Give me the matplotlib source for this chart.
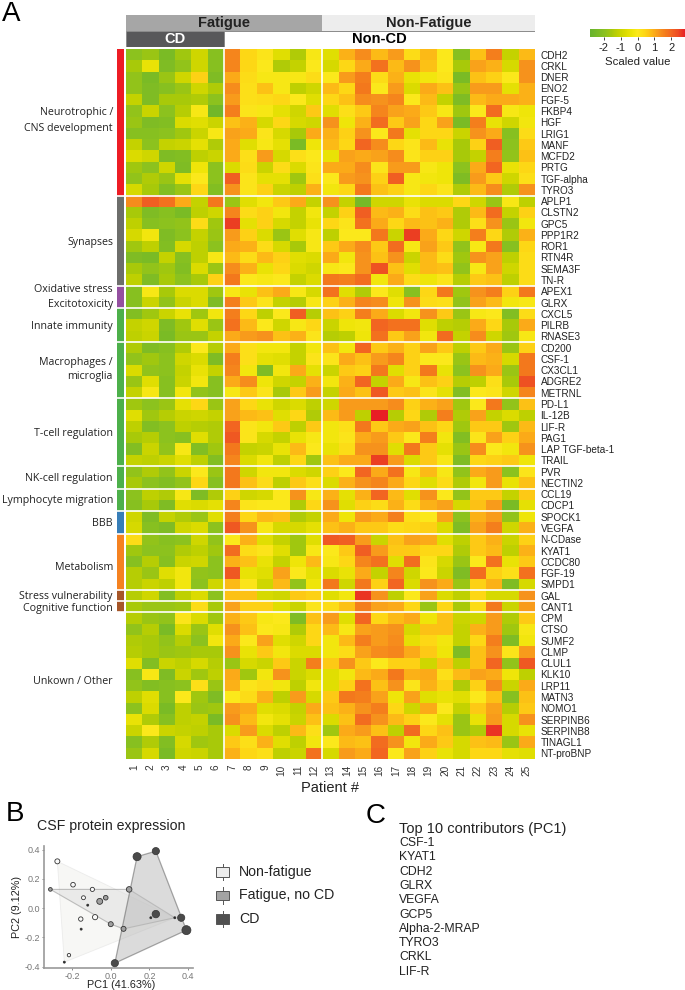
import numpy as np
import matplotlib
matplotlib.use("Agg")
import matplotlib.pyplot as plt
from matplotlib.colors import LinearSegmentedColormap
from matplotlib.patches import Rectangle

plt.rcParams["font.family"] = ["Liberation Sans", "DejaVu Sans"]
plt.rcParams["axes.unicode_minus"] = False

W, H = 685, 990

patients = [str(i) for i in range(1, 26)]

proteins = [
    "CDH2", "CRKL", "DNER", "ENO2", "FGF-5", "FKBP4", "HGF", "LRIG1", "MANF", "MCFD2", "PRTG", "TGF-alpha", "TYRO3",
    "APLP1", "CLSTN2", "GPC5", "PPP1R2", "ROR1", "RTN4R", "SEMA3F", "TN-R",
    "APEX1", "GLRX",
    "CXCL5", "PILRB", "RNASE3",
    "CD200", "CSF-1", "CX3CL1", "ADGRE2", "METRNL",
    "PD-L1", "IL-12B", "LIF-R", "PAG1", "LAP TGF-beta-1", "TRAIL",
    "PVR", "NECTIN2",
    "CCL19", "CDCP1",
    "SPOCK1", "VEGFA",
    "N-CDase", "KYAT1", "CCDC80", "FGF-19", "SMPD1",
    "GAL",
    "CANT1",
    "CPM", "CTSO", "SUMF2", "CLMP", "CLUL1", "KLK10", "LRP11", "MATN3", "NOMO1",
    "SERPINB6", "SERPINB8", "TINAGL1", "NT-proBNP",
]

neuro = [
    [-1.9,-1.7,-2.3,-1.6,-0.9,-2.0, 1.5,0.4,0.1,-0.6,-1.4,-0.1, -0.6,0.9,1.4,0.8,1.2,0.3,0.8,0.0,-2.0,0.7,1.6,-1.1,0.8],
    [-1.5,-0.4,-2.2,-1.8,-0.9,-2.0, 1.5,0.4,0.0,-1.4,-1.1,0.0, -0.8,0.4,1.0,1.8,0.8,1.3,0.7,0.0,-1.5,1.1,0.9,-0.8,1.3],
    [-1.8,-2.3,-1.7,-0.9,0.5,-2.2, 1.0,0.3,-0.1,-0.1,-0.1,0.3, 0.0,1.2,1.6,0.3,0.9,-0.4,-0.2,0.1,-2.3,0.7,0.5,0.0,1.3],
    [-1.8,-2.2,-2.0,-1.7,-0.9,-1.4, 1.4,0.2,0.7,-0.1,-1.2,-0.9, 0.8,0.4,1.7,0.0,1.2,-0.7,1.0,0.7,-1.7,1.2,1.2,-0.5,0.9],
    [-1.1,-2.2,-1.5,-1.5,-1.4,-1.9, 1.2,0.2,0.3,0.4,0.0,-0.6, 0.4,0.7,1.4,1.3,1.5,0.0,0.8,-1.1,-2.2,0.8,1.0,1.0,0.9],
    [-1.8,-1.0,-1.9,-1.3,-0.1,-2.5, 1.6,0.1,-0.1,-0.5,-0.9,0.6, -0.6,0.2,0.6,1.5,1.1,1.0,0.6,-0.1,-1.6,0.0,1.9,-0.1,-0.3],
    [-1.7,-2.2,-2.1,-0.7,-0.6,-1.0, 0.7,0.9,-0.8,0.4,-0.8,-0.9, 1.3,-0.3,0.9,1.9,0.6,1.1,0.4,1.1,-2.3,1.6,-0.4,-0.9,-0.2],
    [-2.0,-2.0,-1.9,-1.6,-1.0,-0.1, 1.1,1.0,0.1,-0.8,-1.5,1.0, 0.9,0.5,1.3,0.0,1.7,-0.5,0.4,0.4,-1.0,1.3,1.0,-2.0,0.3],
    [-1.1,-1.9,-1.1,-1.0,-0.5,-1.4, 1.0,-0.6,-0.1,-0.5,-2.3,-0.3, 0.8,0.4,2.0,1.4,0.4,0.1,0.8,-0.4,-1.5,0.5,2.1,-1.9,0.6],
    [-0.7,-0.9,-2.2,-2.1,-1.2,-1.0, 1.0,0.2,1.2,-0.8,0.2,0.0, -0.4,1.1,1.0,1.1,1.4,0.1,0.5,0.5,-1.5,-1.1,1.6,-1.8,0.7],
    [-1.6,-1.9,-0.9,-2.2,-0.3,-1.9, -0.7,0.3,-1.0,0.3,-0.7,0.1, 1.0,1.0,1.4,0.1,1.2,1.2,-0.1,-0.3,-1.9,1.0,2.0,-0.4,0.4],
    [-1.8,-1.4,-1.7,-0.5,0.0,-1.9, 2.1,0.1,-0.5,-0.5,-1.6,0.2, 0.0,1.2,1.3,0.5,2.1,-0.1,-0.2,-0.3,-2.2,1.2,0.6,-0.9,0.2],
    [-0.8,-1.5,-2.1,-1.7,0.4,-2.1, 1.3,0.1,0.5,-1.0,-1.2,0.9, -0.2,0.4,1.7,0.7,0.5,-0.1,0.4,0.1,-1.4,0.8,1.4,-1.4,1.3],
]
synapses = [
    [1.4,2.1,1.8,1.0,-1.1,1.7, -1.7,-0.6,-0.2,0.6,1.0,-1.1, 1.3,-1.1,-2.4,-0.9,-0.9,-0.4,-0.7,-0.7,0.4,-0.9,-1.7,-0.1,-1.2],
    [-1.5,-2.2,-2.0,-2.3,-1.2,-0.9, 1.5,0.3,0.5,-0.2,-1.1,-0.2, -1.1,0.5,2.1,0.8,0.9,0.3,0.7,0.6,-1.4,0.8,1.9,-1.1,0.5],
    [-1.2,-2.0,-1.9,-1.8,0.3,-1.6, 2.5,-0.5,0.5,-0.8,-1.1,-0.4, 0.4,0.1,1.8,1.0,0.4,0.8,0.7,0.9,-1.4,0.2,1.3,-1.7,-0.2],
    [-0.8,-0.2,-2.2,-1.9,-1.1,-1.7, 1.2,0.5,-0.7,-1.7,-0.6,-0.1, -1.2,0.0,0.0,1.7,-1.0,2.5,1.0,0.4,-0.9,1.6,0.4,-1.4,0.9],
    [-1.6,-1.2,-2.1,-0.8,-1.2,-1.9, 1.0,0.9,0.3,-0.8,-1.5,-0.1, 0.6,1.0,1.4,0.6,1.9,-0.1,1.1,0.6,-1.8,-0.1,1.7,-2.0,0.4],
    [-2.2,-2.3,-1.1,-2.0,-1.2,-0.1, 0.8,0.3,0.8,0.5,-0.6,-0.7, 1.0,-0.2,1.3,0.7,1.3,-1.0,0.8,0.3,-1.6,1.3,1.1,-1.2,0.3],
    [-1.5,-1.8,-1.6,-2.1,-0.7,-1.7, 1.4,0.9,-0.4,0.4,-0.7,-0.9, -0.1,0.0,1.3,2.3,0.7,-0.6,0.8,0.7,-1.8,-0.1,1.1,-0.9,0.3],
    [-1.2,-2.2,-1.5,-1.9,-1.5,0.5, 1.7,0.0,-0.1,0.0,-1.1,-0.7, 1.7,1.6,1.9,-0.2,1.0,0.3,-0.3,0.1,-1.3,0.6,0.7,-1.2,0.3],
]
oxidative = [
    [-2.0,-0.1,-1.5,-0.7,-0.7,-1.6, -0.1,-0.4,0.7,1.0,-0.1,-0.8, 1.8,-0.6,-1.4,0.0,-0.6,-2.0,0.4,1.7,-1.6,1.3,1.6,0.5,1.7],
    [-2.0,-1.0,-1.8,-1.0,-0.7,-2.2, 1.6,0.6,0.1,-1.1,-1.3,-0.1, 0.5,0.9,1.5,1.4,-0.3,1.3,0.3,0.2,-1.8,1.1,0.8,-0.2,-0.1],
]
innate = [
    [-2.1,-1.6,-1.0,-0.4,-1.6,-0.2, 1.6,0.4,-1.2,0.0,2.1,-1.3, 0.7,0.5,1.6,1.0,-0.7,-0.2,1.3,0.6,-1.7,-0.1,0.0,-2.1,0.3],
    [-1.1,-0.9,-2.2,-1.6,-0.6,-1.7, 1.8,0.8,0.0,-0.9,-0.1,0.4, -1.0,-0.3,-0.2,2.0,1.8,1.8,-0.6,-1.2,-1.3,1.0,0.4,-1.5,1.0],
    [-1.2,-1.0,-2.3,-1.7,-1.7,-1.1, 1.0,1.2,1.3,0.7,0.9,0.1, -1.3,-1.2,-0.3,1.8,0.6,1.1,-0.2,1.9,-1.1,1.4,-0.9,-1.6,-0.1],
]
macrophages = [
    [-1.4,-2.2,-2.0,-1.4,0.0,-1.3, 1.0,0.2,-0.2,-0.2,-1.1,-0.2, 0.7,-0.2,2.0,0.6,0.9,0.5,1.1,0.6,-1.2,0.6,1.0,-1.7,0.5],
    [-1.8,-1.6,-1.9,-0.9,-0.7,-2.2, 1.6,0.2,-0.5,-0.6,-1.1,0.1, 0.1,1.0,0.7,1.2,1.5,0.5,0.0,0.0,-1.7,0.8,0.9,-0.8,1.7],
    [-0.7,-1.8,-1.9,-1.1,-0.4,-1.1, 1.5,-0.2,-2.2,-0.2,1.0,-0.5, -1.0,0.6,0.5,1.7,-0.6,0.5,1.7,-0.4,-1.9,1.3,1.0,-1.7,1.7],
    [-1.7,-0.6,-2.0,-1.0,-0.2,-2.0, 1.0,1.4,-0.3,-0.9,-1.1,0.9, -0.2,0.9,2.0,-1.1,1.0,-0.1,0.7,0.5,-1.3,-1.2,0.2,-1.5,2.3],
    [-1.1,-0.1,-2.0,-0.2,-1.8,-2.0, -0.1,0.6,0.1,-1.5,0.6,1.2, -1.1,1.0,0.7,2.2,0.6,0.7,0.1,-0.5,-2.1,0.0,0.1,-0.9,1.5],
]
tcell = [
    [-1.6,-1.9,-1.7,-0.5,0.4,-1.7, 1.1,0.4,-0.4,-0.9,-0.7,-1.2, -0.9,1.2,1.2,1.2,1.4,0.5,0.9,1.1,-1.6,0.0,1.7,-1.8,0.7],
    [-0.6,-1.6,-1.3,-1.0,-0.9,-1.1, 1.1,0.8,0.7,-0.6,0.4,-1.4, 0.8,1.2,-1.2,2.8,-1.3,0.4,-1.4,1.6,-1.4,1.1,-1.1,-0.7,-1.2],
    [-1.2,-2.1,-1.9,-1.2,-1.3,-1.4, 2.0,0.1,-0.2,0.6,-1.2,0.6, -0.2,0.2,1.7,0.6,1.0,1.1,0.7,0.4,-1.6,0.6,0.6,-1.6,0.8],
    [-1.5,-1.3,-1.9,-2.0,-0.6,-1.4, 2.2,0.1,-0.8,-1.1,-0.4,-0.1, -0.2,0.1,1.0,1.2,0.6,0.0,1.6,-0.2,-2.1,0.1,1.1,0.5,1.0],
    [-2.1,-1.0,-1.8,-0.1,-2.1,-1.6, 1.7,-1.1,-1.0,-0.4,0.8,0.0, -0.4,0.3,1.3,1.3,-0.6,1.7,0.6,-0.5,-1.7,1.4,0.0,-0.2,1.3],
    [-1.1,-1.2,-1.0,-0.6,-1.2,-2.1, 1.5,-0.7,-0.2,-1.2,0.4,-1.6, 0.7,1.0,1.0,2.5,1.2,-0.7,0.6,-0.1,-2.2,0.4,0.5,0.6,-0.3],
]
nkcell = [
    [-1.8,-1.4,-1.8,-1.0,0.0,-1.7, 1.7,-0.9,-0.2,-0.2,-0.7,-0.9, 0.5,0.0,2.0,1.0,1.8,-0.1,0.8,-0.1,-1.8,1.0,1.2,-1.9,0.1],
    [-1.5,-1.9,-2.1,-1.8,0.4,-2.0, 1.7,0.7,0.3,-1.2,0.6,0.2, -0.7,0.9,1.3,1.5,1.0,0.4,-0.6,0.3,-1.4,-0.2,1.2,-0.4,0.7],
]
lymphocyte = [
    [-1.9,-1.2,-1.4,-0.1,-2.2,-1.4, 0.5,-0.9,-0.8,0.0,1.3,-0.1, 0.9,-0.5,0.9,2.0,0.8,-0.6,1.3,0.0,-1.8,0.6,0.6,-1.1,0.6],
    [-2.0,-1.5,-2.2,-0.6,-0.7,-0.5, 1.5,0.1,0.0,0.0,-1.4,0.4, 1.3,-0.6,0.5,0.3,0.9,0.3,0.9,1.1,-0.8,0.7,1.2,-2.3,-0.5],
]
bbb = [
    [-0.9,-2.2,-1.1,-1.4,-1.7,-0.6, 1.6,0.4,0.8,0.7,-1.4,-1.1, 1.0,-0.3,1.2,1.0,1.6,0.2,0.0,1.1,-1.9,0.9,1.2,-1.8,-0.3],
    [-0.8,-2.0,-2.2,-0.9,-0.7,-1.9, 2.2,1.3,-0.1,-0.8,-0.8,-0.5, 0.7,0.9,0.6,0.6,0.3,0.4,0.5,-0.7,-2.2,1.1,1.6,-0.9,0.9],
]
metabolism = [
    [0.3,-1.8,-2.0,-1.9,-0.9,-1.8, 0.0,0.9,-0.6,-1.1,-1.6,-0.6, 2.2,2.1,1.2,-1.0,0.7,1.1,1.0,-0.6,-1.2,0.6,0.9,-1.0,0.5],
    [-1.6,-1.9,-1.9,-1.4,-1.2,-1.6, 1.9,0.3,0.1,-0.6,-1.6,-0.1, 0.0,0.6,2.1,1.2,0.6,0.6,0.4,0.4,-1.4,0.6,0.8,-1.2,0.9],
    [-2.0,-1.3,-2.0,-1.0,-0.9,-1.9, 0.9,0.7,-0.4,-1.1,-0.3,0.8, -0.1,0.4,1.5,1.8,-0.6,1.9,0.1,-0.8,-1.7,0.0,1.8,-0.4,0.6],
    [-1.3,-1.7,-0.6,-0.2,-1.8,-1.9, 2.2,-0.4,-0.6,1.1,0.0,-0.5, -0.7,-0.4,1.0,-1.1,1.5,-0.9,0.0,-1.0,-2.2,1.9,0.5,0.2,1.8],
    [-1.3,-1.0,-1.2,-0.2,-1.9,-0.9, 0.8,0.1,-0.9,0.8,-1.8,-0.3, 1.7,-0.9,1.7,0.5,2.0,-0.7,1.3,1.0,-1.7,0.5,0.9,-2.2,-0.8],
]
stress = [
    [-1.3,-0.9,-2.1,-1.2,-0.7,-1.9, 0.7,0.7,-0.8,-0.9,0.6,0.5, -0.6,-0.2,2.6,1.3,-1.2,0.0,1.1,-0.7,-1.2,0.4,-0.8,-0.8,1.3],
]
cognitive = [
    [-1.5,-1.7,-1.7,-1.6,0.3,-1.5, 1.1,0.5,0.5,-0.6,-1.0,0.1, 0.3,0.7,1.6,1.1,1.0,0.4,-1.7,0.4,-1.5,0.3,1.7,-1.0,1.2],
]
other = [
    [-1.3,-1.7,-1.8,0.1,-0.7,-1.6, 0.9,0.6,-0.1,0.0,-2.2,0.7, 1.2,-0.6,2.0,0.4,0.8,1.0,-0.3,0.7,-1.0,-0.9,1.2,-1.4,0.6],
    [-1.8,-1.3,-2.3,-0.7,-1.7,-0.6, 1.3,0.7,0.0,-0.1,-1.4,0.4, 0.8,-0.1,1.1,1.2,1.3,-0.8,0.7,0.7,-1.1,0.9,1.2,-1.6,-0.1],
    [-1.4,-1.5,-1.8,-1.3,-1.9,-0.2, 1.0,0.0,1.1,-0.6,-0.9,0.4, -0.2,0.8,1.6,1.2,1.4,-0.5,0.4,-0.2,-1.1,0.4,1.6,-2.2,-0.2],
    [-1.3,-1.5,-1.7,-1.6,-1.5,-1.5, 1.3,-0.4,0.6,-0.2,-0.7,-0.7, -0.2,0.3,1.1,1.4,1.5,1.0,0.6,-0.3,-2.2,0.7,1.3,0.1,1.2],
    [-0.6,-2.1,-1.0,-1.2,-0.8,-1.3, -1.7,-0.8,-1.0,0.6,-1.0,1.6, 0.6,1.3,0.6,0.0,0.5,0.5,-0.9,0.7,-1.2,0.7,2.0,-1.8,2.2],
    [-2.0,-0.1,-2.2,-1.0,-1.6,-1.2, 1.0,-1.6,-0.2,1.3,-1.0,-0.7, -0.6,-0.2,0.8,1.0,1.7,0.9,1.0,0.2,0.8,1.1,1.0,-0.3,-1.2],
    [-1.8,-2.1,-2.0,-1.9,0.2,-1.7, 0.9,0.1,0.3,-0.2,-1.2,-0.2, -0.6,0.5,1.8,0.7,1.3,0.1,0.9,0.5,-1.4,0.5,1.4,-1.0,1.0],
    [-1.2,-0.6,-2.0,0.0,-1.6,-2.2, 0.0,0.3,0.9,-1.2,1.2,-0.8, 0.6,1.7,1.6,1.1,-0.3,1.1,-0.6,-0.4,-0.6,0.0,0.7,-2.0,0.7],
    [-1.9,-0.7,-2.3,-1.2,-1.7,-1.6, 1.2,1.0,-0.6,-0.7,-1.1,1.0, 0.7,0.9,1.3,1.6,0.4,-0.9,1.0,0.0,-1.1,0.6,1.1,-1.3,0.6],
    [-0.4,-1.4,-2.0,-1.2,-1.1,-2.3, 1.3,0.8,-0.2,-0.5,-1.0,0.7, -0.7,0.7,1.9,1.3,0.8,0.5,0.0,-0.5,-1.7,-0.4,1.2,-0.8,1.3],
    [-1.0,0.0,-1.0,-1.1,-1.2,-1.5, -0.7,1.2,-0.7,-1.2,0.8,0.2, -1.6,1.0,1.2,0.7,-1.2,1.9,0.4,0.7,-1.7,-1.4,2.6,-0.8,-0.4],
    [-2.0,-1.4,-2.1,-0.8,-1.6,-1.5, 0.6,0.2,0.9,-0.6,-1.2,-0.2, 0.0,0.8,0.7,1.9,1.3,-0.2,1.0,0.6,-0.8,0.7,0.8,-1.7,1.0],
    [-1.7,-0.8,-2.3,-0.9,-1.0,-1.5, 0.9,0.4,0.2,-1.2,-1.0,1.8, -0.8,1.2,1.0,2.0,0.0,1.1,0.5,-0.4,-0.8,0.4,0.4,-0.5,-0.6],
]

groups = [neuro, synapses, oxidative, innate, macrophages, tcell, nkcell,
          lymphocyte, bbb, metabolism, stress, cognitive, other]
group_colors = ["#ed1c24", "#6d6e6b", "#9450a0", "#4db04a", "#4db04a", "#4db04a", "#4db04a",
                "#4db04a", "#377eb8", "#f58220", "#a65628", "#a65628", "white"]

# label text, y pixel
group_labels = [
    ("Neurotrophic /", 113), ("CNS development", 128), ("Synapses", 242),
    ("Oxidative stress", 290), ("Excitotoxicity", 304), ("Innate immunity", 326),
    ("Macrophages /", 362), ("microglia", 377), ("T-cell regulation", 434),
    ("NK-cell regulation", 479), ("Lymphocyte migration", 500), ("BBB", 524),
    ("Metabolism", 568), ("Stress vulnerability", 596), ("Cognitive function", 608),
    ("Unkown / Other", 682),
]

fatigue_names = ["Fatigue", "Non-Fatigue"]
fatigue_counts = [12, 13]
cd_names = ["CD", "Non-CD"]
cd_counts = [6, 19]

contributors = ["CSF-1", "KYAT1", "CDH2", "GLRX", "VEGFA", "GCP5", "Alpha-2-MRAP", "TYRO3", "CRKL", "LIF-R"]

# PCA points
nf_x = [-0.276, -0.195, -0.095, -0.141, -0.081, -0.155, -0.216, -0.119, -0.153, -0.24, 0.207, 0.331]
nf_y = [0.32, 0.16, 0.128, 0.071, -0.062, -0.075, -0.322, 0.02, -0.144, -0.37, -0.066, -0.066]
nf_w = [13, 11, 9, 8, 14, 10, 6, 2, 2, 2, 2, 2]
fa_x = [-0.312, 0.095, -0.057, -0.026, 0.0, 0.066]
fa_y = [0.128, 0.128, 0.046, 0.071, -0.11, -0.142]
fa_w = [7, 16, 18, 11, 13, 13]
cd_x = [0.136, 0.233, 0.364, 0.391, 0.021, 0.233]
cd_y = [0.352, 0.39, -0.066, -0.151, -0.377, -0.041]
cd_w = [34, 27, 27, 42, 27, 29]

nf_hull_x = [-0.276, 0.331, -0.24]
nf_hull_y = [0.32, -0.066, -0.37]
fa_hull_x = [-0.312, 0.095, 0.331, 0.066, 0.0]
fa_hull_y = [0.128, 0.128, -0.066, -0.142, -0.11]
cd_hull_x = [0.136, 0.233, 0.391, 0.021]
cd_hull_y = [0.352, 0.39, -0.151, -0.377]

legend_names = ["Non-fatigue", "Fatigue, no CD", "CD"]
legend_colors = ["#ececec", "#a3a3a3", "#505050"]


def box(x0, y0, x1, y1):
    return [x0 / W, 1 - y1 / H, (x1 - x0) / W, (y1 - y0) / H]


def ftext(x, y, s, **kw):
    return fig.text(x / W, 1 - y / H, s, **kw)


values = np.array([row for g in groups for row in g])
sizes = [len(g) for g in groups]
edges = np.cumsum(sizes)[:-1] - 0.5

cmap = LinearSegmentedColormap.from_list("heat", [
    (0.0, "#66b32e"), (0.16, "#8cc21f"), (0.23, "#a8c90a"), (0.30, "#c4d200"), (0.375, "#dcdc00"),
    (0.45, "#f0e60a"), (0.5, "#fbe91c"), (0.57, "#fdd816"), (0.625, "#fdc315"), (0.68, "#fbaa19"),
    (0.73, "#f7941d"), (0.80, "#f47a1c"), (0.86, "#f26522"), (0.93, "#ed4b22"), (1.0, "#e81e25"),
])

fig = plt.figure(figsize=(W / 100, H / 100), dpi=100)

# heatmap
ax = fig.add_axes(box(126, 49, 535, 759))
im = ax.imshow(values, cmap=cmap, vmin=-2.8, vmax=2.8, aspect="auto", interpolation="nearest")
for e in edges:
    ax.axhline(e, color="white", lw=1.2)
for e in [5.5, 11.5]:
    ax.axvline(e, color="white", lw=1.2)
ax.set_xticks(range(25))
ax.set_xticklabels(patients, rotation=90, fontsize=7.2, color="#333333")
ax.set_yticks(range(len(proteins)))
ax.set_yticklabels(proteins, fontsize=7.2, color="#222222")
ax.yaxis.tick_right()
ax.tick_params(length=0, pad=4)
for s in ax.spines.values():
    s.set_visible(False)
ftext(330, 788, "Patient #", fontsize=10.5, ha="center", va="center", color="#222222")

# row annotation bar
side = fig.add_axes(box(117, 49, 124.5, 759), sharey=ax)
top = -0.5
for n, c in zip(sizes, group_colors):
    side.barh(top + n / 2, 1, height=n, color=c)
    top += n
for e in edges:
    side.axhline(e, color="white", lw=1.2)
side.set_xlim(0, 1)
side.axis("off")
for label, y in group_labels:
    ftext(113, y, label, ha="right", va="center", fontsize=7.7, family=["Open Sans", "DejaVu Sans"], color="#222222")

# column annotations
ann = fig.add_axes(box(126, 15, 535, 47))
ann.set_xlim(0, 25)
ann.set_ylim(2, 0)
ann.axis("off")
left = 0
for name, n, c in zip(fatigue_names, fatigue_counts, ["#a6a6a6", "#ededed"]):
    ann.barh(0.49, n, left=left, height=0.98, color=c)
    ann.text(left + n / 2, 0.49, name, ha="center", va="center", fontsize=10.5, fontweight="bold", color="#222222")
    left += n
left = 0
for name, n, c, tc in zip(cd_names, cd_counts, ["#58585a", "white"], ["white", "black"]):
    ann.barh(1.51, n, left=left, height=0.96, color=c, edgecolor="#8a8a8a", lw=0.7)
    ann.text(left + n / 2, 1.51, name, ha="center", va="center", fontsize=10.5, fontweight="bold", color=tc)
    left += n

# colour key
cax = fig.add_axes(box(590, 28.5, 685, 37))
cb = fig.colorbar(im, cax=cax, orientation="horizontal", ticks=[-2, -1, 0, 1, 2])
cb.outline.set_visible(False)
cb.ax.tick_params(length=2, width=0.6, labelsize=8, pad=2, colors="#222222")
ftext(637.5, 62, "Scaled value", ha="center", va="center", fontsize=8.2, color="#222222")

# panel letters
ftext(2, 21, "A", fontsize=20, va="baseline")
ftext(6, 821, "B", fontsize=20, va="baseline")
ftext(366, 823, "C", fontsize=20, va="baseline")

# PCA
pc = fig.add_axes(box(44, 846, 193, 968))
pc.set_xlim(-0.345, 0.425)
pc.set_ylim(-0.41, 0.425)
pc.fill(nf_hull_x, nf_hull_y, facecolor="#f1f1ec", edgecolor="#dddddd", alpha=0.5, lw=0.6, zorder=1)
pc.fill(fa_hull_x, fa_hull_y, facecolor="#dedede", edgecolor="#888888", alpha=0.5, lw=0.8, zorder=2)
pc.fill(cd_hull_x, cd_hull_y, facecolor="#b8b8b8", edgecolor="#555555", alpha=0.5, lw=0.9, zorder=3)
pc.scatter(nf_x, nf_y, s=nf_w, facecolor=["#fafafa" if w > 3 else "#222222" for w in nf_w],
           edgecolor="#333333", lw=0.6, zorder=4)
pc.scatter(fa_x, fa_y, s=fa_w, facecolor="#a0a0a0", edgecolor="#333333", lw=0.6, zorder=4)
pc.scatter(cd_x, cd_y, s=cd_w, facecolor="#4a4a4a", edgecolor="#333333", lw=0.5, zorder=5)
pc.set_xticks([-0.2, 0.0, 0.2, 0.4])
pc.set_xticklabels(["-0.2", "0.0", "0.2", "0.4"])
pc.set_yticks([-0.4, -0.2, 0.0, 0.2, 0.4])
pc.set_yticklabels(["-0.4", "-0.2", "0.0", "0.2", "0.4"])
pc.tick_params(labelsize=6.5, colors="#777777", length=1.5, width=0.6, pad=1.5)
pc.spines["top"].set_visible(False)
pc.spines["right"].set_visible(False)
pc.spines["left"].set_color("#999999")
pc.spines["bottom"].set_color("#999999")
pc.spines["left"].set_linewidth(1.2)
pc.spines["bottom"].set_linewidth(1.2)
ftext(121, 985, "PC1 (41.63%)", ha="center", va="center", fontsize=7.8, color="#222222")
ftext(17, 907, "PC2 (9.12%)", ha="center", va="center", rotation=90, fontsize=7.8, color="#222222")
ftext(37, 830, "CSF protein expression", fontsize=10.2, va="baseline", color="#222222")

# PCA legend
leg = fig.add_axes(box(210, 860, 345, 931))
leg.set_xlim(0, 135)
leg.set_ylim(3, 0)
leg.axis("off")
for i, (name, c) in enumerate(zip(legend_names, legend_colors)):
    leg.plot([12.5, 12.5], [i + 0.15, i + 0.85], color="#555555", lw=0.7, zorder=1)
    leg.add_patch(Rectangle((6, i + 0.29), 13, 0.42, facecolor=c, edgecolor="#555555", lw=0.7, zorder=2))
    leg.text(29, i + 0.5, name, va="center", fontsize=10.2, color="#222222")

# contributors
ftext(399, 833, "Top 10 contributors (PC1)", fontsize=10.5, va="baseline", color="#222222")
for i, name in enumerate(contributors):
    ftext(399, 843 + i * 14.3, name, fontsize=8.8, va="center", color="#222222")

fig.savefig("out.png", dpi=100)
